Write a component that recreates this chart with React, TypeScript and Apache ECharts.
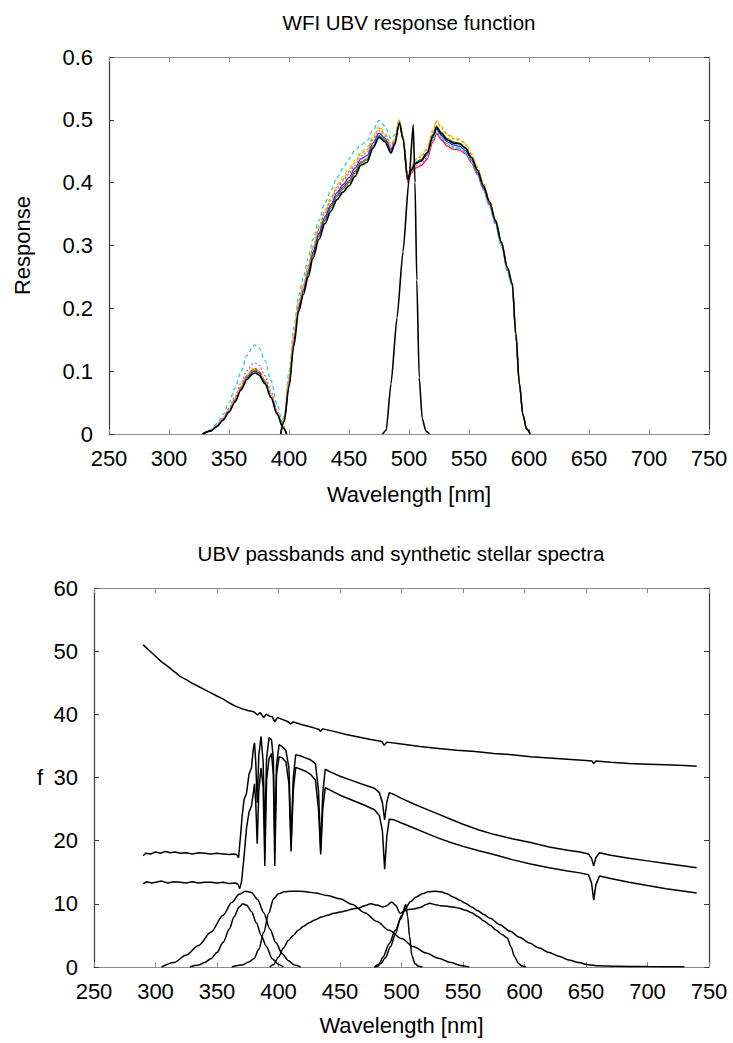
import React, { useEffect, useRef } from "react";
import * as echarts from "echarts";

// ---------- WFI response curves (top panel) ----------
const U_WL = [328, 335, 340, 345, 350, 355, 360, 365, 370, 372, 375, 380, 385, 390, 395, 398];

const U_BLACK = [0, 0.005, 0.012, 0.022, 0.035, 0.051, 0.07, 0.087, 0.096, 0.097, 0.094, 0.08, 0.058, 0.032, 0.01, 0];
const U_RED = [0, 0.005, 0.013, 0.024, 0.038, 0.055, 0.075, 0.093, 0.103, 0.104, 0.1, 0.085, 0.062, 0.034, 0.011, 0];
const U_GREEN = [0, 0.005, 0.013, 0.023, 0.037, 0.054, 0.074, 0.092, 0.101, 0.102, 0.098, 0.084, 0.061, 0.034, 0.011, 0];
const U_BLUE = [0, 0.005, 0.012, 0.023, 0.036, 0.053, 0.072, 0.09, 0.099, 0.1, 0.097, 0.082, 0.06, 0.033, 0.01, 0];
const U_MAGENTA = [0, 0.006, 0.014, 0.026, 0.041, 0.06, 0.081, 0.101, 0.112, 0.113, 0.109, 0.093, 0.068, 0.037, 0.012, 0];
const U_CYAN = [0, 0.007, 0.017, 0.031, 0.05, 0.073, 0.099, 0.125, 0.139, 0.142, 0.137, 0.117, 0.085, 0.047, 0.015, 0];
const U_YELLOW = [0, 0.005, 0.013, 0.024, 0.038, 0.056, 0.076, 0.094, 0.104, 0.105, 0.101, 0.086, 0.062, 0.035, 0.011, 0];
const U_ORANGE = [0, 0.005, 0.013, 0.023, 0.037, 0.055, 0.075, 0.093, 0.102, 0.103, 0.099, 0.085, 0.061, 0.034, 0.011, 0];

const BV_WL = [
  393, 396, 400, 404, 408, 412, 416, 420, 425, 430, 435, 440, 445, 450, 455, 460, 465, 470, 475, 480,
  485, 488, 492, 495, 499, 502, 505, 510, 515, 520, 523, 527, 532, 537, 542, 547, 552, 557, 562, 567,
  572, 577, 582, 586, 589, 592, 595, 598, 601,
];

const BV_BLACK = [
  0, 0.02, 0.075, 0.14, 0.195, 0.222, 0.25, 0.28, 0.31, 0.335, 0.355, 0.373, 0.385, 0.395, 0.41, 0.428, 0.432, 0.455, 0.472, 0.465,
  0.447, 0.46, 0.495, 0.47, 0.405, 0.42, 0.43, 0.435, 0.447, 0.475, 0.488, 0.478, 0.468, 0.463, 0.462, 0.455, 0.44, 0.42, 0.395, 0.37,
  0.34, 0.305, 0.265, 0.24, 0.16, 0.08, 0.03, 0.008, 0,
];
const BV_RED = [
  0, 0.022, 0.08, 0.148, 0.2, 0.228, 0.257, 0.288, 0.318, 0.343, 0.363, 0.38, 0.393, 0.403, 0.418, 0.433, 0.438, 0.458, 0.474, 0.466,
  0.45, 0.462, 0.496, 0.468, 0.4, 0.415, 0.423, 0.427, 0.437, 0.465, 0.478, 0.468, 0.458, 0.453, 0.452, 0.446, 0.432, 0.413, 0.39, 0.366,
  0.337, 0.303, 0.263, 0.238, 0.158, 0.079, 0.03, 0.008, 0,
];
const BV_GREEN = [
  0, 0.021, 0.078, 0.145, 0.198, 0.226, 0.255, 0.285, 0.315, 0.34, 0.36, 0.378, 0.39, 0.4, 0.415, 0.431, 0.436, 0.458, 0.475, 0.468,
  0.45, 0.463, 0.497, 0.472, 0.407, 0.422, 0.432, 0.437, 0.448, 0.477, 0.49, 0.48, 0.47, 0.465, 0.463, 0.456, 0.441, 0.421, 0.396, 0.37,
  0.34, 0.305, 0.265, 0.24, 0.16, 0.08, 0.03, 0.008, 0,
];
const BV_BLUE = [
  0, 0.022, 0.08, 0.148, 0.202, 0.23, 0.26, 0.29, 0.32, 0.346, 0.366, 0.384, 0.397, 0.408, 0.423, 0.438, 0.443, 0.463, 0.479, 0.471,
  0.453, 0.465, 0.497, 0.471, 0.406, 0.421, 0.43, 0.434, 0.444, 0.472, 0.485, 0.475, 0.465, 0.46, 0.458, 0.451, 0.436, 0.416, 0.392, 0.367,
  0.337, 0.302, 0.262, 0.237, 0.157, 0.079, 0.03, 0.008, 0,
];
const BV_MAGENTA = [
  0, 0.024, 0.085, 0.155, 0.206, 0.235, 0.265, 0.295, 0.326, 0.352, 0.372, 0.39, 0.403, 0.414, 0.428, 0.443, 0.448, 0.468, 0.483, 0.474,
  0.455, 0.466, 0.497, 0.47, 0.403, 0.418, 0.426, 0.43, 0.44, 0.468, 0.481, 0.471, 0.461, 0.456, 0.455, 0.448, 0.433, 0.413, 0.389, 0.364,
  0.335, 0.3, 0.26, 0.236, 0.156, 0.078, 0.03, 0.008, 0,
];
const BV_CYAN = [
  0, 0.03, 0.1, 0.17, 0.22, 0.25, 0.28, 0.31, 0.34, 0.368, 0.388, 0.408, 0.423, 0.438, 0.452, 0.46, 0.466, 0.484, 0.499, 0.49,
  0.47, 0.476, 0.5, 0.474, 0.41, 0.424, 0.432, 0.436, 0.445, 0.47, 0.483, 0.472, 0.462, 0.457, 0.455, 0.448, 0.433, 0.413, 0.388, 0.362,
  0.333, 0.298, 0.258, 0.234, 0.155, 0.078, 0.03, 0.008, 0,
];
const BV_YELLOW = [
  0, 0.026, 0.09, 0.16, 0.212, 0.24, 0.27, 0.3, 0.332, 0.358, 0.378, 0.397, 0.41, 0.422, 0.436, 0.45, 0.455, 0.474, 0.49, 0.48,
  0.462, 0.47, 0.5, 0.474, 0.41, 0.426, 0.437, 0.443, 0.455, 0.485, 0.5, 0.49, 0.478, 0.472, 0.47, 0.463, 0.447, 0.426, 0.4, 0.373,
  0.343, 0.307, 0.266, 0.241, 0.16, 0.08, 0.03, 0.008, 0,
];
const BV_ORANGE = [
  0, 0.025, 0.088, 0.157, 0.209, 0.237, 0.267, 0.297, 0.329, 0.355, 0.375, 0.393, 0.406, 0.418, 0.432, 0.447, 0.452, 0.471, 0.487, 0.477,
  0.459, 0.468, 0.499, 0.473, 0.409, 0.425, 0.436, 0.441, 0.453, 0.483, 0.497, 0.487, 0.476, 0.47, 0.468, 0.461, 0.445, 0.424, 0.398, 0.372,
  0.342, 0.306, 0.265, 0.24, 0.16, 0.08, 0.03, 0.008, 0,
];

const SPIKE_WL = [478, 481, 485, 490, 495, 500, 503.5, 505, 506.5, 508.5, 511, 514, 517];
const SPIKE = [0, 0.006, 0.08, 0.185, 0.29, 0.405, 0.492, 0.4, 0.245, 0.09, 0.025, 0.005, 0];

// ---------- passbands and stellar spectra (bottom panel) ----------
const PB_U_WIDE: [number, number][] = [
  [305, 0], [315, 0.7], [325, 1.9], [335, 3.4], [345, 5.5], [355, 8.2], [362, 10.2], [368, 11.5], [373, 12.0],
  [378, 11.8], [383, 10.7], [388, 8.6], [393, 6.0], [398, 3.8], [403, 2.1], [408, 1.0], [413, 0.3], [418, 0],
];
const PB_U_WFI: [number, number][] = [
  [328, 0], [335, 0.3], [340, 0.7], [345, 1.3], [350, 2.3], [355, 3.9], [360, 6.0], [364, 8.0], [368, 9.5],
  [371, 10.0], [374, 9.8], [378, 8.8], [382, 7.0], [386, 5.0], [390, 3.3], [395, 1.3], [400, 0.4], [404, 0],
];
const PB_B: [number, number][] = [
  [362, 0], [370, 0.3], [376, 0.8], [380, 1.3], [384, 2.8], [388, 5.5], [392, 8.5], [396, 10.8], [400, 11.6],
  [405, 11.9], [410, 12.0], [415, 12.0], [420, 11.95], [425, 11.85], [430, 11.7], [440, 11.3], [450, 10.8],
  [460, 9.9], [470, 8.6], [480, 7.2], [490, 5.8], [500, 4.5], [510, 3.2], [520, 2.2], [530, 1.4], [540, 0.7],
  [548, 0.25], [555, 0],
];
const PB_BV_WFI: [number, number][] = [
  [393, 0], [396, 0.4], [400, 1.6], [404, 3.0], [408, 4.2], [412, 5.0], [416, 5.8], [420, 6.4], [425, 7.0],
  [430, 7.5], [435, 7.9], [440, 8.2], [445, 8.5], [450, 8.7], [455, 8.9], [460, 9.2], [465, 9.3], [470, 9.7],
  [475, 10.0], [480, 9.8], [485, 9.5], [488, 9.7], [492, 10.3], [495, 9.8], [499, 8.5], [502, 8.8], [505, 9.1],
  [510, 9.2], [515, 9.4], [520, 9.9], [523, 10.1], [527, 9.9], [532, 9.7], [537, 9.6], [542, 9.5], [547, 9.3],
  [552, 9.0], [557, 8.6], [562, 8.0], [567, 7.3], [572, 6.6], [577, 5.8], [582, 5.1], [586, 4.6], [589, 3.2],
  [592, 1.6], [595, 0.6], [598, 0.15], [601, 0],
];
const PB_SPIKE: [number, number][] = [
  [478, 0], [481, 0.12], [485, 1.6], [490, 3.7], [495, 5.8], [500, 8.1], [503.5, 9.9], [505, 8.0],
  [506.5, 4.9], [508.5, 1.8], [511, 0.5], [514, 0.1], [517, 0],
];
const PB_V: [number, number][] = [
  [478, 0], [483, 0.5], [487, 1.5], [491, 3.2], [495, 5.2], [499, 7.5], [503, 9.2], [507, 10.3], [512, 11.1],
  [517, 11.6], [522, 11.9], [527, 12.0], [532, 11.9], [537, 11.6], [542, 11.1], [547, 10.6], [552, 10.1],
  [557, 9.5], [562, 8.9], [567, 8.3], [572, 7.7], [580, 6.7], [588, 5.7], [596, 4.7], [604, 3.8], [612, 3.0],
  [620, 2.3], [628, 1.7], [636, 1.1], [644, 0.7], [652, 0.35], [660, 0.18], [675, 0.1], [700, 0.06], [730, 0.02],
];

const SPEC_HOT: [number, number][] = [
  [290, 51.0], [295, 50.1], [300, 49.2], [305, 48.3], [310, 47.6], [315, 46.8], [320, 46.0], [325, 45.5],
  [330, 44.9], [335, 44.4], [340, 43.9], [345, 43.4], [350, 42.9], [355, 42.4], [360, 41.8], [365, 41.3],
  [370, 40.9], [375, 40.6], [380, 40.4], [383, 39.9], [385, 40.3], [388, 39.5], [390, 40.0], [393, 39.7],
  [395, 39.6], [397, 38.8], [399, 39.5], [403, 39.2], [407, 38.9], [410, 38.5], [412, 38.8], [420, 38.3],
  [428, 37.9], [433, 37.6], [434, 37.3], [436, 37.7], [445, 37.3], [455, 36.8], [465, 36.4], [475, 36.0],
  [484, 35.7], [486, 35.1], [488, 35.6], [500, 35.3], [515, 34.9], [530, 34.6], [545, 34.3], [560, 34.1],
  [575, 33.8], [590, 33.6], [605, 33.3], [620, 33.1], [635, 32.9], [650, 32.7], [655, 32.6], [656.3, 32.2],
  [658, 32.6], [670, 32.4], [685, 32.2], [700, 32.1], [715, 32.0], [730, 31.9], [740, 31.8],
];
const SPEC_A1: [number, number][] = [
  [290, 17.6], [292, 18.0], [296, 17.9], [300, 18.2], [304, 18.0], [308, 18.3], [312, 18.1], [316, 18.2],
  [320, 18.0], [325, 18.1], [330, 17.9], [335, 18.1], [340, 18.0], [345, 17.9], [350, 18.0], [355, 17.9],
  [360, 17.8], [364, 17.9], [366, 17.8], [367.5, 17.3], [369, 20.5], [370.5, 24.0], [372, 26.5], [374, 27.5],
  [376, 30.5], [378, 31.5], [379.5, 34.5], [380.5, 35.5], [381.5, 32.5], [382.7, 26.0], [384, 33.5],
  [385.8, 36.5], [387.5, 32.5], [388.9, 21.0], [390.3, 33.0], [392.3, 36.3], [394.3, 36.0], [395.8, 33.0],
  [397.0, 20.0], [398.4, 32.0], [400.5, 35.2], [403, 34.9], [406, 34.3], [408.5, 31.5], [410.2, 19.6],
  [412, 30.0], [414, 33.6], [418, 33.4], [422, 33.1], [426, 32.8], [430, 32.2], [432.5, 28.0], [434.3, 18.8],
  [436, 27.5], [438, 31.3], [442, 30.9], [450, 30.2], [460, 29.5], [470, 28.8], [478, 28.3], [482, 27.6],
  [484.5, 26.0], [486.3, 23.3], [488, 26.0], [490, 27.6], [494, 27.3], [500, 26.7], [510, 25.8], [520, 25.0],
  [530, 24.2], [540, 23.4], [550, 22.6], [563, 21.7], [575, 21.0], [590, 20.3], [605, 19.7], [620, 19.0],
  [635, 18.5], [645, 18.2], [652, 17.9], [654.5, 17.2], [656.3, 16.0], [658, 17.3], [661, 18.1], [670, 17.7],
  [685, 17.2], [700, 16.8], [715, 16.4], [730, 16.0], [740, 15.7],
];
const SPEC_A2: [number, number][] = [
  [290, 13.2], [293, 13.5], [297, 13.3], [300, 13.4], [305, 13.6], [310, 13.3], [315, 13.5], [320, 13.4],
  [325, 13.3], [330, 13.5], [335, 13.3], [340, 13.4], [345, 13.4], [350, 13.3], [355, 13.4], [360, 13.2],
  [365, 13.3], [367, 13.1], [368.5, 12.4], [370, 13.6], [372, 17.5], [374, 22.0], [376, 24.5], [378, 25.5],
  [379.5, 27.5], [380.5, 29.0], [381.5, 26.0], [382.7, 19.5], [384, 28.0], [385.8, 31.5], [387.5, 28.5],
  [388.9, 16.0], [390.3, 29.5], [392.3, 33.0], [394.3, 33.8], [395.8, 30.5], [397.0, 16.0], [398.4, 30.5],
  [400.5, 33.3], [403, 33.1], [406, 32.5], [408.5, 29.0], [410.2, 18.3], [412, 28.0], [414, 31.6], [418, 31.3],
  [422, 31.0], [426, 30.5], [430, 29.6], [432.5, 25.0], [434.3, 17.8], [436, 25.0], [438, 28.4], [442, 28.0],
  [450, 27.2], [460, 26.4], [470, 25.6], [478, 24.9], [482, 24.0], [484.5, 21.5], [486.3, 15.5], [488, 20.5],
  [490, 23.4], [494, 23.3], [500, 22.8], [510, 22.0], [520, 21.2], [530, 20.4], [540, 19.7], [550, 19.1],
  [563, 18.4], [575, 17.8], [590, 17.0], [605, 16.3], [620, 15.7], [635, 15.2], [645, 14.9], [652, 14.6],
  [654.5, 13.3], [656.3, 10.6], [658, 13.0], [661, 14.4], [670, 14.0], [685, 13.4], [700, 12.9], [715, 12.4],
  [730, 12.0], [740, 11.7],
];

const TOP_TITLE = "WFI UBV response function";
const BOTTOM_TITLE = "UBV passbands and synthetic stellar spectra";
const X_NAME = "Wavelength [nm]";

const FONT = "'Liberation Sans', Arial, Helvetica, sans-serif";
const FS = 22;
const TITLE_FS = 20.5;

const zip = (xs: number[], ys: number[]) => xs.map((x, i) => [x, ys[i]]);

type Curve = { name: string; u: number[]; bv: number[]; color: string; dash: any; width: number; z: number };

const WFI_CURVES: Curve[] = [
  { name: "red", u: U_RED, bv: BV_RED, color: "#e8102a", dash: "solid", width: 1.2, z: 2 },
  { name: "green", u: U_GREEN, bv: BV_GREEN, color: "#10a020", dash: "solid", width: 1.2, z: 2 },
  { name: "blue", u: U_BLUE, bv: BV_BLUE, color: "#1a2ee8", dash: "solid", width: 1.2, z: 2 },
  { name: "magenta", u: U_MAGENTA, bv: BV_MAGENTA, color: "#e040d0", dash: [2, 2], width: 1.2, z: 2 },
  { name: "cyan", u: U_CYAN, bv: BV_CYAN, color: "#18c8d8", dash: [4, 3], width: 1.2, z: 2 },
  { name: "yellow", u: U_YELLOW, bv: BV_YELLOW, color: "#e8d800", dash: [4, 3], width: 1.2, z: 2 },
  { name: "orange", u: U_ORANGE, bv: BV_ORANGE, color: "#f08a10", dash: [3, 2], width: 1.2, z: 2 },
  { name: "black", u: U_BLACK, bv: BV_BLACK, color: "#000000", dash: "solid", width: 1.6, z: 3 },
];

function lineSeries(data: number[][], axis: number, color: string, width: number, dash: any = "solid", z = 2, smooth = 0) {
  return {
    type: "line",
    xAxisIndex: axis,
    yAxisIndex: axis,
    data,
    showSymbol: false,
    symbol: "none",
    silent: true,
    clip: true,
    smooth,
    smoothMonotone: "x",
    z,
    lineStyle: { color, width, type: dash },
  };
}

const frameX = "#8c8c8c";
const frameY = "#3a3a3a";
const textStyle = { color: "#000", fontSize: FS, fontFamily: FONT };

function xPair(grid: number, nameGap: number) {
  const base = {
    gridIndex: grid,
    type: "value",
    min: 250,
    max: 750,
    interval: 50,
    splitLine: { show: false },
    axisTick: { inside: true, length: 5, lineStyle: { color: frameX, width: 1 } },
    axisLine: { onZero: false, lineStyle: { color: frameX, width: 1.2 } },
  };
  return [
    {
      ...base,
      position: "bottom",
      axisLabel: { ...textStyle, margin: 13 },
      name: X_NAME,
      nameLocation: "middle",
      nameGap,
      nameTextStyle: textStyle,
    },
    { ...base, position: "top", axisLabel: { show: false } },
  ];
}

function yPair(grid: number, max: number, interval: number, name: string, nameGap: number, nameRotate: number) {
  const base = {
    gridIndex: grid,
    type: "value",
    min: 0,
    max,
    interval,
    splitLine: { show: false },
    axisTick: { inside: true, length: 5, lineStyle: { color: frameY, width: 1 } },
    axisLine: { onZero: false, lineStyle: { color: frameY, width: 1.2 } },
  };
  return [
    {
      ...base,
      position: "left",
      axisLabel: { ...textStyle, margin: 16 },
      name,
      nameLocation: "middle",
      nameGap,
      nameRotate,
      nameTextStyle: textStyle,
    },
    { ...base, position: "right", axisLabel: { show: false } },
  ];
}

function titleText(text: string, x: number, y: number) {
  return {
    type: "text",
    x,
    y,
    silent: true,
    style: {
      text,
      fill: "#000",
      font: `${TITLE_FS}px ${FONT}`,
      textAlign: "center",
      textVerticalAlign: "middle",
      align: "center",
      verticalAlign: "middle",
    },
  };
}

export default function App() {
  const ref = useRef<HTMLDivElement>(null);

  useEffect(() => {
    if (!ref.current) return;
    const chart = echarts.init(ref.current, undefined, { renderer: "svg" });

    const [x0b, x0t] = xPair(0, 49);
    const [x1b, x1t] = xPair(1, 47);
    const [y0l, y0r] = yPair(0, 0.6, 0.1, "Response", 76, 90);
    const [y1l, y1r] = yPair(1, 60, 10, "f", 51, 0);

    const series: any[] = [];
    // top panel: filter responses (primary axes 0 / 0)
    for (const c of WFI_CURVES) {
      series.push(lineSeries(zip(U_WL, c.u), 0, c.color, c.width, c.dash, c.z, 0.3));
      series.push(lineSeries(zip(BV_WL, c.bv), 0, c.color, c.width, c.dash, c.z, 0.3));
    }
    series.push(lineSeries(zip(SPIKE_WL, SPIKE), 0, "#000", 1.6, "solid", 3, 0.2));

    // bottom panel: passbands (smooth) and spectra (primary axes 2 / 2)
    for (const d of [PB_U_WIDE, PB_U_WFI, PB_B, PB_BV_WFI, PB_SPIKE, PB_V]) {
      series.push(lineSeries(d, 2, "#000", 1.5, "solid", 2, 0.3));
    }
    for (const d of [SPEC_HOT, SPEC_A1, SPEC_A2]) series.push(lineSeries(d, 2, "#000", 1.5));

    chart.setOption({
      animation: false,
      backgroundColor: "#fff",
      grid: [
        { left: 109, top: 57, width: 600, height: 377 },
        { left: 94, top: 588, width: 615, height: 379 },
      ],
      xAxis: [x0b, x0t, x1b, x1t],
      yAxis: [y0l, y0r, y1l, y1r],
      graphic: [titleText(TOP_TITLE, 409, 22), titleText(BOTTOM_TITLE, 401, 553)],
      series,
    });

    return () => chart.dispose();
  }, []);

  return <div ref={ref} style={{ position: "absolute", left: 0, top: 0, width: 733, height: 1043 }} />;
}
